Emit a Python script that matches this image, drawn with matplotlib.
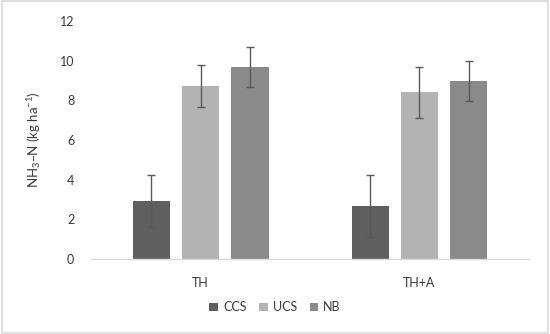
import matplotlib
matplotlib.use("Agg")
import matplotlib.pyplot as plt
import numpy as np
from matplotlib.patches import Rectangle

categories = ["TH", "TH+A"]
series = ["CCS", "UCS", "NB"]
values = {
    "CCS": [2.93, 2.68],
    "UCS": [8.72, 8.41],
    "NB": [9.66, 8.97],
}
errors = {
    "CCS": [1.31, 1.56],
    "UCS": [1.08, 1.28],
    "NB": [1.01, 1.00],
}
colors = {"CCS": "#5f5f5f", "UCS": "#b3b3b3", "NB": "#8a8a8a"}
yticks = [0, 2, 4, 6, 8, 10, 12]

plt.rcParams["font.family"] = ["Lato", "DejaVu Sans"]
plt.rcParams["mathtext.default"] = "regular"

fig = plt.figure(figsize=(5.5, 3.34), dpi=100)
ax = fig.add_axes([0.1655, 0.2246, 0.7963, 0.7124])

x = np.arange(len(categories))
width = 0.173
step = 0.224
for i, s in enumerate(series):
    pos = x + (i - 1) * step
    ax.bar(pos, values[s], width, color=colors[s], label=s, zorder=2,
           yerr=errors[s], error_kw=dict(ecolor="#595959", elinewidth=1.0,
                                         capsize=3, capthick=1.0))

ax.set_xlim(-0.5, 1.5)
ax.set_ylim(0, 12)
ax.set_yticks(yticks)
ax.set_xticks(x)
ax.set_xticklabels(categories)
ax.tick_params(axis="both", length=0, labelsize=9, colors="#3a3a3a")
ax.tick_params(axis="y", pad=12)
ax.tick_params(axis="x", pad=13)
for sp in ["top", "right", "left"]:
    ax.spines[sp].set_visible(False)
ax.spines["bottom"].set_color("#d9d9d9")
ax.spines["bottom"].set_linewidth(1.0)

ax.set_ylabel("NH$_3$–N (kg ha$^{-1}$)", fontsize=9.5, color="#3a3a3a", labelpad=12)

leg = fig.legend(loc="center", bbox_to_anchor=(0.5, 0.08), ncol=3, frameon=False,
                 fontsize=9, handlelength=0.7, handleheight=0.7, handletextpad=0.4,
                 columnspacing=1.0)
for t in leg.get_texts():
    t.set_color("#3a3a3a")

fig.patches.append(Rectangle((0.003, 0.004), 0.994, 0.992, transform=fig.transFigure,
                             fill=False, edgecolor="#d9d9d9", linewidth=1.2))

fig.savefig("out.png", dpi=100, facecolor="white")
